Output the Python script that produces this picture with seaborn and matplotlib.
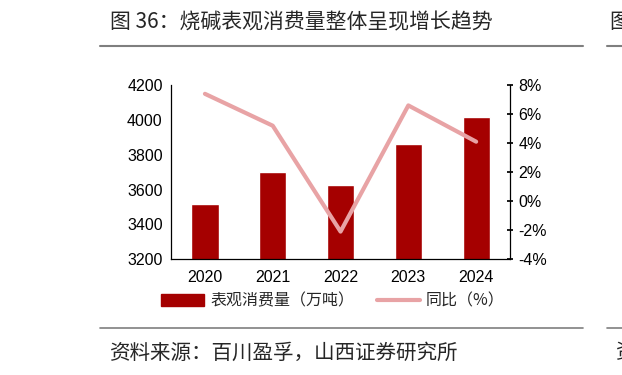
import matplotlib.pyplot as plt
import seaborn as sns
import numpy as np
import pandas as pd
from matplotlib.lines import Line2D
from matplotlib.patches import Patch

years = ["2020", "2021", "2022", "2023", "2024"]
consumption = [3517, 3699, 3624, 3860, 4016]   # 表观消费量（万吨）
yoy = [7.4, 5.2, -2.1, 6.6, 4.1]               # 同比（%）

bar_color = "#A50000"
line_color = "#E8A3A5"

sns.set_theme(style="white")
plt.rcParams["font.family"] = ["Liberation Sans", "Noto Sans CJK SC", "DejaVu Sans"]
cjk = ["Noto Sans CJK SC", "DejaVu Sans"]

df = pd.DataFrame({"year": years, "consumption": consumption, "yoy": yoy})

fig = plt.figure(figsize=(6.22, 3.75), dpi=100)
ax1 = fig.add_axes([0.275, 0.309, 0.545, 0.464])

sns.barplot(data=df, x="year", y="consumption", color=bar_color, width=0.4,
            saturation=1, ax=ax1)
ax1.set_ylim(3200, 4200)
ax1.set_yticks(range(3200, 4201, 200))
ax1.set_xlim(-0.5, len(years) - 0.5)
ax1.set_xlabel("")
ax1.set_ylabel("")
ax1.tick_params(axis="both", labelsize=11.5, length=0, colors="black")
ax1.tick_params(axis="x", pad=8)
ax1.tick_params(axis="y", pad=6)
for s in ["top", "right"]:
    ax1.spines[s].set_visible(False)
for s in ["left", "bottom"]:
    ax1.spines[s].set_color("black")
    ax1.spines[s].set_linewidth(0.9)

ax2 = ax1.twinx()
sns.lineplot(x=np.arange(len(years)), y=df["yoy"], color=line_color, lw=3,
             ax=ax2, legend=False)
ax2.set_ylim(-4, 8)
ax2.set_yticks(range(-4, 9, 2))
ax2.set_yticklabels([f"{v}%" for v in range(-4, 9, 2)])
ax2.set_ylabel("")
ax2.tick_params(axis="y", labelsize=11.5, length=4, direction="inout", colors="black", pad=4)
for s in ["top", "left", "bottom"]:
    ax2.spines[s].set_visible(False)
ax2.spines["right"].set_visible(True)
ax2.spines["right"].set_color("black")
ax2.spines["right"].set_linewidth(0.9)

handles = [Patch(color=bar_color), Line2D([0], [0], color=line_color, lw=3)]
fig.legend(handles, ["表观消费量（万吨）", "同比（%）"], loc="center",
           bbox_to_anchor=(0.535, 0.197), ncol=2, frameon=False,
           prop={"family": cjk, "size": 11.5}, handlelength=2.7,
           columnspacing=1.4, handletextpad=0.4)

# title, rules and source
fig.text(0.177, 0.94, "图 36：烧碱表观消费量整体呈现增长趋势", family=cjk,
         fontsize=15, va="center", ha="left")
fig.add_artist(Line2D([0.161, 0.937], [0.877, 0.877], color="#7f7f7f", lw=1.5))
fig.add_artist(Line2D([0.976, 1.0], [0.877, 0.877], color="#7f7f7f", lw=1.5))
fig.text(0.98, 0.94, "图", family=cjk, fontsize=15, va="center", ha="left")
fig.add_artist(Line2D([0.161, 0.937], [0.125, 0.125], color="#7f7f7f", lw=1.2))
fig.add_artist(Line2D([0.976, 1.0], [0.125, 0.125], color="#7f7f7f", lw=1.2))
fig.text(0.177, 0.06, "资料来源：百川盈孚，山西证券研究所", family=cjk,
         fontsize=14.8, va="center", ha="left")
fig.text(0.99, 0.06, "资", family=cjk, fontsize=14.8, va="center", ha="left")

fig.savefig("out.png", dpi=100)
